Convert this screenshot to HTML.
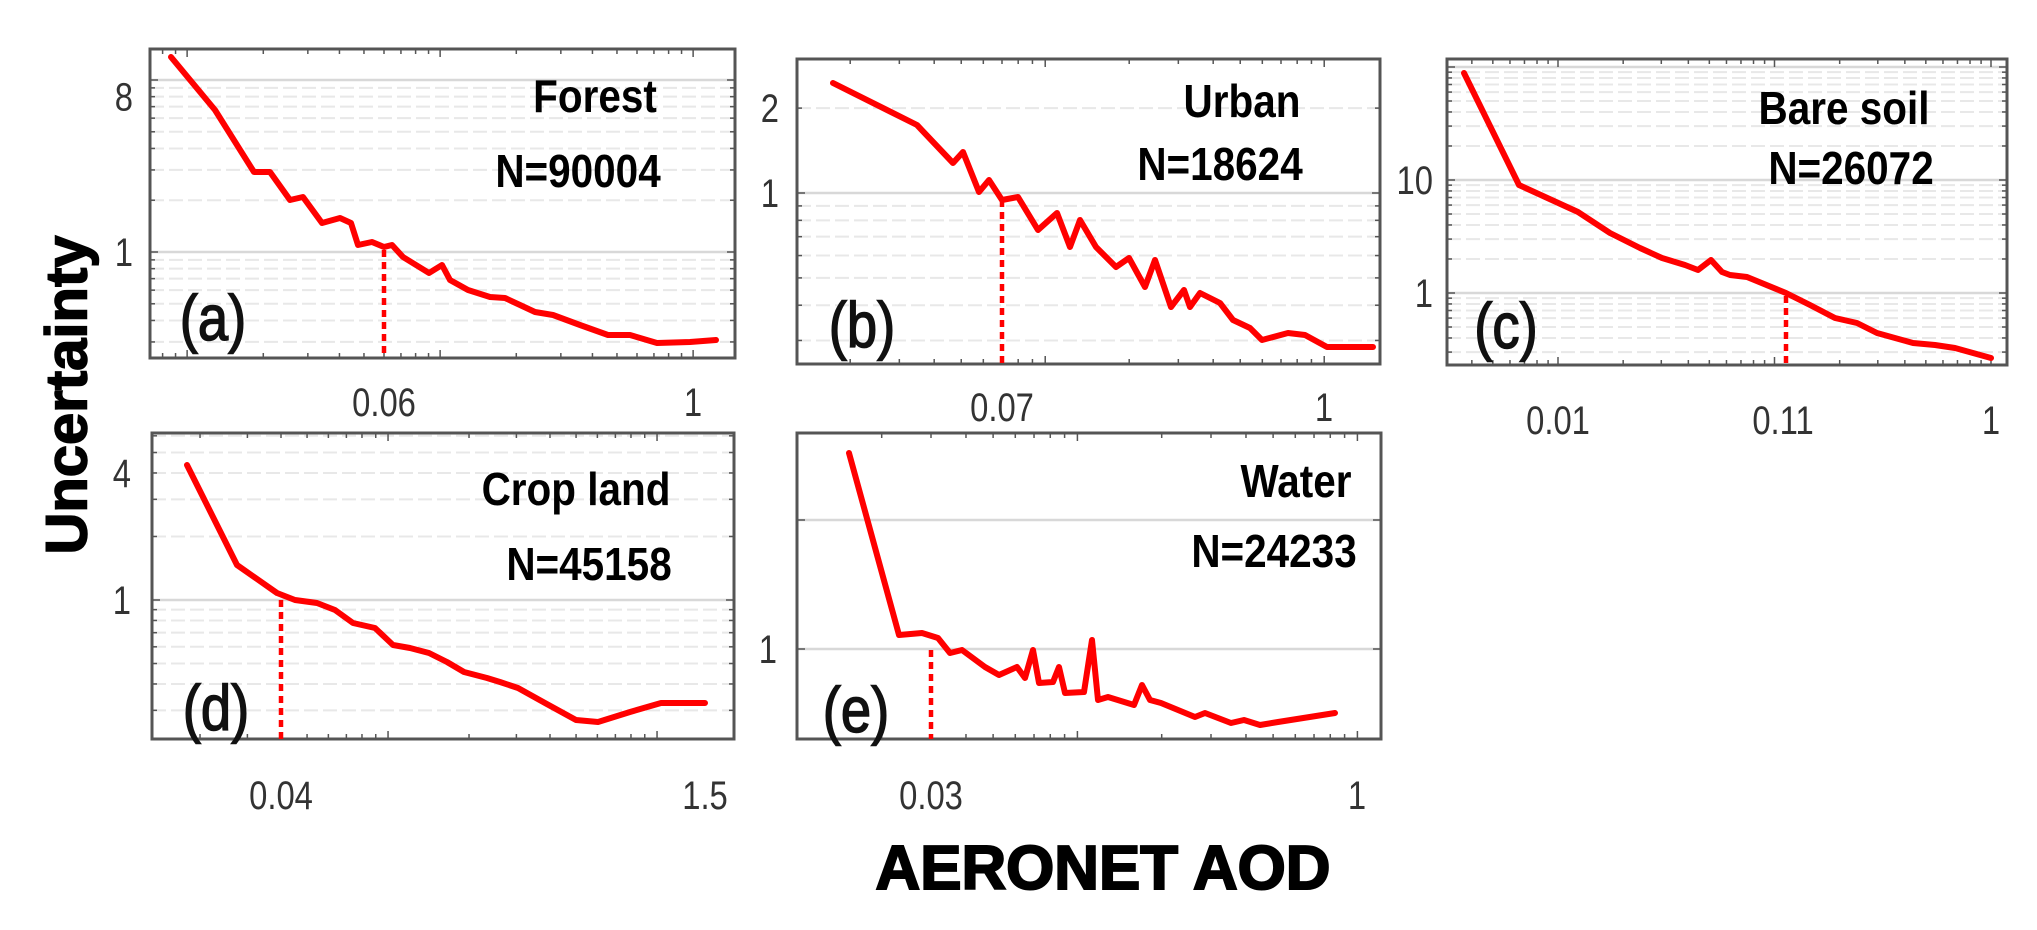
<!DOCTYPE html>
<html><head><meta charset="utf-8"><style>
html,body{margin:0;padding:0;background:#fff;width:2037px;height:930px;overflow:hidden}
svg{display:block}
</style></head><body>
<svg id="s" width="2037" height="930" xmlns="http://www.w3.org/2000/svg" font-family="Liberation Sans, sans-serif">
<text x="67" y="395" font-size="58" font-weight="bold" text-anchor="middle" dominant-baseline="central" transform="rotate(-90 67 395)" stroke="#000" stroke-width="1.5">Uncertainty</text>
<text x="1103" y="889" font-size="62" font-weight="bold" text-anchor="middle" textLength="455" lengthAdjust="spacingAndGlyphs" stroke="#000" stroke-width="2">AERONET AOD</text>
</svg>
<script>
const S=document.getElementById('s');const NS='http://www.w3.org/2000/svg';
function el(t,a,txt){const e=document.createElementNS(NS,t);for(const k in a)e.setAttribute(k,a[k]);if(txt!==undefined)e.textContent=txt;S.appendChild(e);return e;}
function ctext(t,x,y,fs,sx,attrs){const a=Object.assign({x:0,y:0,'font-size':fs,transform:`translate(${x} ${y}) scale(${sx} 1)`},attrs||{});return el('text',a,t);}
const P=[
{x0:150,x1:735,y0:49,y1:358,xr:[0.06,384,253],yr:[1,252,172],minor:true,
 xl:[['0.06',384],['1',693]],xly:402,yl:[['8',8],['1',1]],ylx:133,
 t:['Forest',595,95],n:['N=90004',578,170],lab:['(a)',213,340],dash:[384,250],
 pts:[[171,57],[215,110],[254,172],[270,172],[290,200],[303,197],[322,223],[340,218],[351,223],[358,245],[372,242],[384,247],[392,245],[403,257],[429,273],[442,265],[450,280],[468,290],[490,297],[505,298],[520,305],[535,312],[553,315],[580,325],[608,335],[630,335],[657,343],[690,342],[716,340]]},
{x0:797,x1:1380,y0:59,y1:364,xr:[0.07,1002,279],yr:[1,193,282],minor:true,
 xl:[['0.07',1002],['1',1324]],xly:407,yl:[['2',2],['1',1]],ylx:779,
 t:['Urban',1242,100],n:['N=18624',1220,163],lab:['(b)',862,347],dash:[1002,200],
 pts:[[833,83],[917,125],[953,163],[963,152],[979,192],[989,180],[1002,200],[1018,197],[1038,230],[1057,213],[1070,247],[1080,220],[1096,247],[1116,267],[1129,258],[1145,287],[1155,260],[1171,307],[1184,290],[1190,307],[1200,293],[1220,303],[1233,320],[1250,328],[1262,340],[1288,333],[1305,335],[1327,347],[1373,347]]},
{x0:1447,x1:2007,y0:59,y1:365,xr:[0.01,1558,216.5],yr:[1,293,113],minor:true,
 xl:[['0.01',1558],['0.11',1783],['1',1991]],xly:420,yl:[['10',10],['1',1]],ylx:1433,
 t:['Bare soil',1844,107],n:['N=26072',1851,167],lab:['(c)',1506,348],dash:[1786,296],
 pts:[[1464,73],[1519,185],[1578,212],[1610,233],[1640,248],[1662,258],[1685,265],[1698,270],[1711,260],[1722,272],[1730,275],[1747,277],[1786,293],[1810,305],[1835,318],[1857,323],[1877,333],[1913,343],[1935,345],[1955,348],[1991,358]]},
{x0:152,x1:734,y0:433,y1:739,xr:[0.04,281,269],yr:[1,600,211],minor:true,
 xl:[['0.04',281],['1.5',705]],xly:795,yl:[['4',4],['1',1]],ylx:131,
 t:['Crop land',576,488],n:['N=45158',589,563],lab:['(d)',216,730],dash:[281,600],
 pts:[[187,465],[237,565],[277,593],[295,600],[317,603],[335,610],[353,623],[375,628],[393,645],[410,648],[429,653],[447,662],[464,672],[487,678],[500,682],[518,688],[545,703],[576,720],[598,722],[630,712],[661,703],[705,703]]},
{x0:797,x1:1381,y0:433,y1:739,xr:[0.03,931,280],yr:[1,649,129],minor:false,
 xl:[['0.03',931],['1',1357]],xly:795,yl:[['1',1]],ylx:777,
 t:['Water',1296,480],n:['N=24233',1274,550],lab:['(e)',856,732],dash:[931,650],
 pts:[[849,453],[899,635],[922,633],[938,638],[950,653],[962,650],[985,667],[999,675],[1017,667],[1025,678],[1033,650],[1039,683],[1053,682],[1059,667],[1065,693],[1084,692],[1092,640],[1098,700],[1108,697],[1134,705],[1142,685],[1150,700],[1161,703],[1195,717],[1205,713],[1231,723],[1244,720],[1260,725],[1278,722],[1335,713]]}
];
const mults=[1,2,3,4,5,6,7,8,9];
for(const p of P){
 const ly=v=>p.yr[1]-p.yr[2]*Math.log10(v/p.yr[0]);
 const lx=v=>p.xr[1]+p.xr[2]*Math.log10(v/p.xr[0]);
 for(let d=-4;d<=3;d++)for(const m of mults){const v=m*Math.pow(10,d);const y=ly(v);
  if(y<=p.y0+2||y>=p.y1-2)continue;const major=m===1;
  if(!major&&!p.minor)continue;
  el('line',{x1:p.x0,x2:p.x1,y1:y,y2:y,stroke:major?'#d8d8d8':'#e8e8e8','stroke-width':major?2.5:2,'stroke-dasharray':major?'':'14 5'});
  el('line',{x1:p.x0,x2:p.x0+(major?8:5),y1:y,y2:y,stroke:'#555','stroke-width':1.5});
  el('line',{x1:p.x1,x2:p.x1-(major?8:5),y1:y,y2:y,stroke:'#555','stroke-width':1.5});
 }
 for(let d=-4;d<=2;d++)for(const m of mults){const v=m*Math.pow(10,d);const x=lx(v);
  if(x<=p.x0+2||x>=p.x1-2)continue;const L=m===1?8:5;
  el('line',{x1:x,x2:x,y1:p.y1,y2:p.y1-L,stroke:'#555','stroke-width':1.5});
  el('line',{x1:x,x2:x,y1:p.y0,y2:p.y0+L,stroke:'#555','stroke-width':1.5});
 }
 el('rect',{x:p.x0,y:p.y0,width:p.x1-p.x0,height:p.y1-p.y0,fill:'none',stroke:'#555','stroke-width':3});
 for(const [t,x] of p.xl)ctext(t,x,p.xly+14,40,0.82,{fill:'#333','text-anchor':'middle'});
 for(const [t,v] of p.yl)ctext(t,p.ylx,ly(v)+14,40,0.82,{fill:'#333','text-anchor':'end'});
 ctext(p.t[0],p.t[1],p.t[2]+17,46,0.88,{'font-weight':'bold','text-anchor':'middle'});
 ctext(p.n[0],p.n[1],p.n[2]+17,46,0.88,{'font-weight':'bold','text-anchor':'middle'});
 ctext(p.lab[0],p.lab[1],p.lab[2],64,0.85,{'text-anchor':'middle',fill:'#111',stroke:'#111','stroke-width':1.5});
 el('line',{x1:p.dash[0],x2:p.dash[0],y1:p.dash[1],y2:p.y1,stroke:'#f00','stroke-width':4.5,'stroke-dasharray':'7 5'});
 el('polyline',{points:p.pts.map(a=>a.join(',')).join(' '),fill:'none',stroke:'#f00','stroke-width':6,'stroke-linejoin':'round','stroke-linecap':'round'});
}
</script>
</body></html>
